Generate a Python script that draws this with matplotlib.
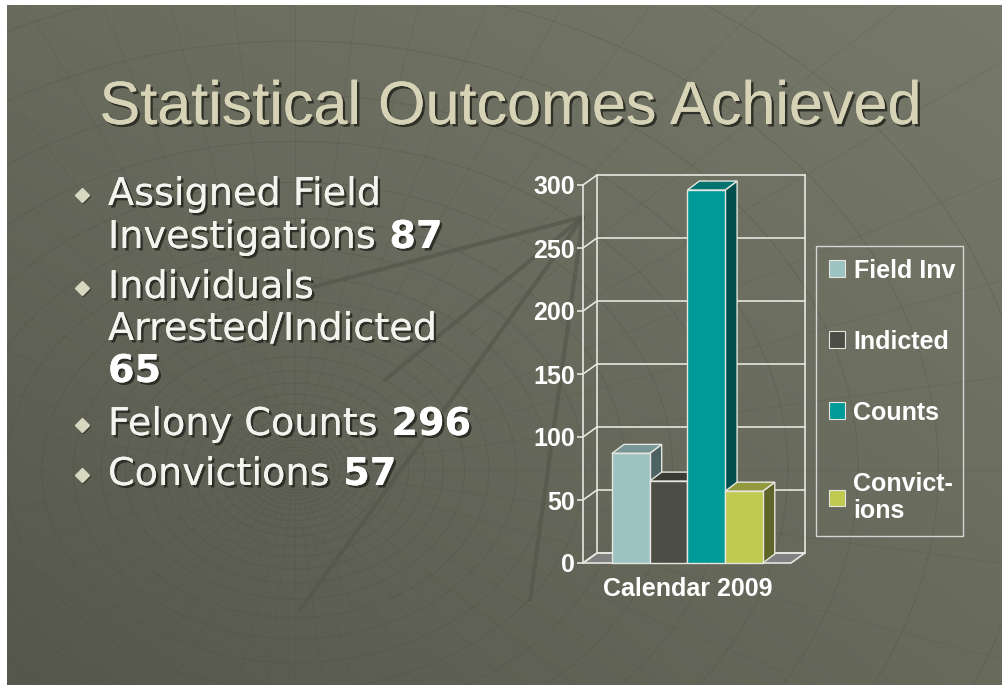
import numpy as np
import matplotlib
matplotlib.use("Agg")
import matplotlib.pyplot as plt
from matplotlib.patches import Rectangle, Polygon, Patch
import matplotlib.patheffects as pe

# ---- data ----
categories = ["Field Inv", "Indicted", "Counts", "Convict-\nions"]
values = [87, 65, 296, 57]
front_colors = ["#9cc3c2", "#4c4d44", "#009a98", "#c0c950"]
side_colors = ["#4d6262", "#2e2f29", "#004f4e", "#5f6428"]
top_colors = ["#789696", "#3a3b34", "#007270", "#939a3e"]
y_ticks = [0, 50, 100, 150, 200, 250, 300]
x_label = "Calendar 2009"
title = "Statistical Outcomes Achieved"
bullets = [
    (["Assigned Field", "Investigations"], "87"),
    (["Individuals", "Arrested/Indicted", ""], "65"),
    (["Felony Counts"], "296"),
    (["Convictions"], "57"),
]

W, H = 1003, 685
fig = plt.figure(figsize=(W / 100, H / 100), dpi=100, facecolor="#65675a")

# ---- background ----
bg = fig.add_axes([0, 0, 1, 1])
bg.axis("off")
tl = np.array([0x69, 0x6b, 0x5d]) / 255
tr = np.array([0x77, 0x79, 0x6b]) / 255
bl = np.array([0x55, 0x57, 0x4b]) / 255
br = np.array([0x68, 0x6a, 0x5c]) / 255
gx = np.linspace(0, 1, 200)[None, :, None]
gy = np.linspace(0, 1, 140)[:, None, None]
grad = (tl * (1 - gx) * (1 - gy) + tr * gx * (1 - gy) + bl * (1 - gx) * gy + br * gx * gy)
bg.imshow(grad, extent=(0, W, H, 0), aspect="auto", zorder=0, interpolation="bilinear")

# faint decorative globe grid
cx, cy = 295, 470
lc = "#4c4e43"
t = np.linspace(0, 2 * np.pi, 300)
for r in np.geomspace(25, 700, 26):
    bg.plot(cx + r * 1.05 * np.cos(t), cy + r * 0.8 * np.sin(t), color=lc, lw=0.7, alpha=0.3, zorder=1)
for k in range(48):
    a = np.deg2rad(k * 7.5)
    bg.plot([cx, cx + 900 * np.cos(a)], [cy, cy + 900 * np.sin(a)], color=lc, lw=0.6, alpha=0.22, zorder=1)
for ex, ey in [(313, 287), (385, 380), (300, 610), (530, 600)]:
    bg.plot([583, ex], [217, ey], color="#55574b", lw=3, alpha=0.7, zorder=1, solid_capstyle="round")
# white page margin at top and left
bg.add_patch(Rectangle((-5, -5), 12, H + 10, facecolor="white", edgecolor="none", zorder=2))
bg.add_patch(Rectangle((-5, -5), W + 10, 10, facecolor="white", edgecolor="none", zorder=2))
bg.set_xlim(0, W)
bg.set_ylim(H, 0)

shadow = [pe.withSimplePatchShadow(offset=(1.8, -1.8), shadow_rgbFace="#25261f", alpha=0.85), pe.Normal()]

bg.text(511, 124, title, fontsize=44, family="Liberation Sans", color="#d6d3b6",
        ha="center", va="baseline", path_effects=shadow, zorder=5)

# bullets
fs = 27.5
baselines = [[205, 248], [298, 340, 382], [435], [485]]
for (lines, num), bls in zip(bullets, baselines):
    bg.plot(82, bls[0] - 10, marker="D", markersize=7, color="#d8d8c0", zorder=5,
            path_effects=[pe.SimpleLineShadow(offset=(1, -1), shadow_color="#2a2b24", alpha=0.8), pe.Normal()])
    last = None
    for txt, yb in zip(lines, bls):
        last = bg.text(108, yb, txt, fontsize=fs, family="DejaVu Sans", color="#f4f4ee",
                       ha="left", va="baseline", path_effects=shadow, zorder=5)
    if lines[-1] == "":
        bg.text(108, bls[-1], num, fontsize=fs, family="DejaVu Sans", fontweight="bold",
                color="#ffffff", ha="left", va="baseline", path_effects=shadow, zorder=5)
    else:
        bg.annotate(" " + num, xy=(1, 0), xycoords=last, fontsize=fs, family="DejaVu Sans",
                    fontweight="bold", color="#ffffff", ha="left", va="bottom",
                    path_effects=shadow, zorder=5)

# ---- chart ----
u = 37.7                      # px per bar unit
left_px, right_px, bot_px, top_px = 583, 791, 563, 185
x0 = -0.5 - (612 - left_px) / u
x1 = x0 + (right_px - left_px) / u
ax = fig.add_axes([left_px / W, 1 - bot_px / H, (right_px - left_px) / W, (bot_px - top_px) / H])
ax.set_xlim(x0, x1)
ax.set_ylim(0, 300)
ax.patch.set_visible(False)
ypx = 300 / (bot_px - top_px)
wdx, wdy = 14 / u, 10 * ypx      # wall depth
bdx, bdy = 12 / u, 9 * ypx       # bar depth
gc = "#e6e6e0"

# floor
ax.add_patch(Polygon([(x0, 0), (x1, 0), (x1 + wdx, wdy), (x0 + wdx, wdy)], closed=True,
                     facecolor="#808080", edgecolor=gc, lw=1.2, clip_on=False, zorder=1))
# back wall grid + left wall diagonals
for v in y_ticks:
    ax.plot([x0 + wdx, x1 + wdx], [v + wdy, v + wdy], color=gc, lw=1.2, clip_on=False, zorder=1)
    ax.plot([x0, x0 + wdx], [v, v + wdy], color=gc, lw=1.2, clip_on=False, zorder=1)
ax.plot([x0 + wdx, x0 + wdx], [wdy, 300 + wdy], color=gc, lw=1.2, clip_on=False, zorder=1)
ax.plot([x1 + wdx, x1 + wdx], [wdy, 300 + wdy], color=gc, lw=1.2, clip_on=False, zorder=1)

# bars
for i, (v, fc, sc, tc) in enumerate(zip(values, front_colors, side_colors, top_colors)):
    z = 2 + i
    ax.add_patch(Polygon([(i + 0.5, 0), (i + 0.5 + bdx, bdy), (i + 0.5 + bdx, v + bdy), (i + 0.5, v)],
                         closed=True, facecolor=sc, edgecolor=gc, lw=1, clip_on=False, zorder=z))
    ax.add_patch(Polygon([(i - 0.5, v), (i - 0.5 + bdx, v + bdy), (i + 0.5 + bdx, v + bdy), (i + 0.5, v)],
                         closed=True, facecolor=tc, edgecolor=gc, lw=1, clip_on=False, zorder=z))
    ax.add_patch(Rectangle((i - 0.5, 0), 1, v, facecolor=fc, edgecolor=gc, lw=1,
                           clip_on=False, zorder=z + 0.5))

for s in ["top", "right", "bottom"]:
    ax.spines[s].set_visible(False)
ax.spines["left"].set_color(gc)
ax.spines["left"].set_linewidth(1.2)
ax.spines["left"].set_zorder(0.5)
ax.set_yticks(y_ticks)
ax.set_yticklabels([str(v) for v in y_ticks])
ax.tick_params(axis="y", colors=gc, length=4, width=1.2, direction="out", pad=2,
               labelsize=18, labelcolor="white")
for lab in ax.get_yticklabels():
    lab.set_fontweight("bold")
    lab.set_family("Liberation Sans")
ax.set_xticks([(len(values) - 1) / 2])
ax.set_xticklabels([x_label])
ax.tick_params(axis="x", length=0, pad=10, labelsize=18, labelcolor="white")
for lab in ax.get_xticklabels():
    lab.set_fontweight("bold")
    lab.set_family("Liberation Sans")

# legend
handles = [Patch(facecolor=c, edgecolor=gc, lw=0.8) for c in front_colors]
leg = fig.legend(handles, categories, loc="upper left",
                 bbox_to_anchor=(816 / W, 1 - 531 / H, (963 - 816) / W, (531 - 246) / H),
                 mode="expand", labelspacing=1.88, handlelength=0.65, handleheight=0.65,
                 handletextpad=0.35, borderpad=0.5, borderaxespad=0, frameon=True, fancybox=False,
                 labelcolor="white", prop={"family": "Liberation Sans", "weight": "bold", "size": 18})
leg.get_frame().set_facecolor("none")
leg.get_frame().set_edgecolor("#f0f0f0")
leg.get_frame().set_linewidth(1.0)

fig.savefig("out.png", dpi=100, facecolor=fig.get_facecolor())
